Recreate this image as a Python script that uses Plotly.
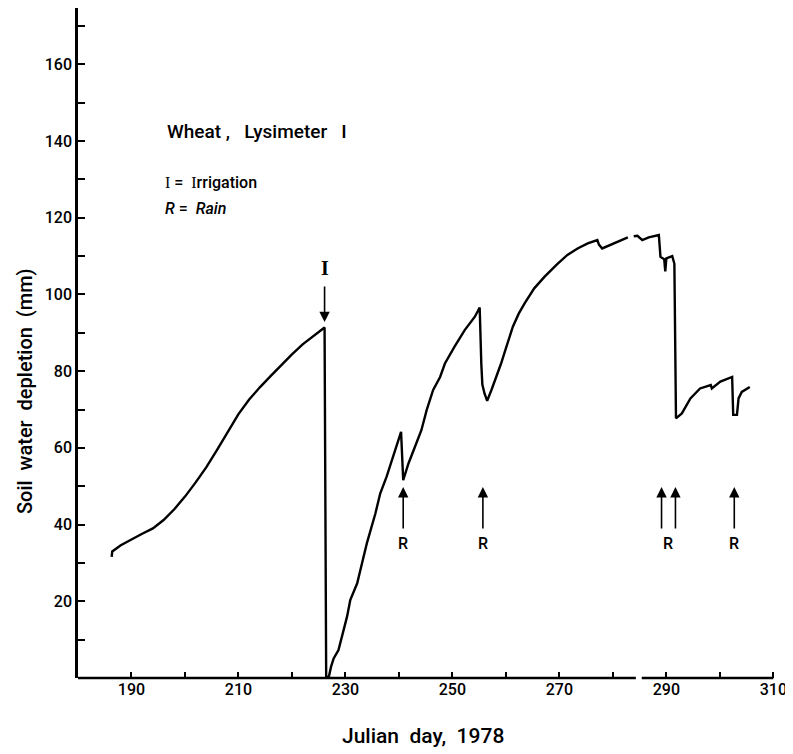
import plotly.graph_objects as go

# ---- data ----
julian_day = [186.3, 186.4, 188.0, 190.0, 192.0, 194.0, 196.0, 198.0, 200.0, 202.0,
              204.0, 206.0, 208.0, 210.0, 212.0, 214.0, 216.0, 218.0, 220.0, 222.0,
              224.0, 226.1, 226.4, 226.9, 227.3, 227.8,
              228.7, 229.4, 230.3, 230.9, 232.2, 233.1, 234.0, 235.6, 236.5, 237.7,
              238.7, 239.6, 240.4, 240.8, 241.8, 243.0, 244.2, 245.2, 246.4, 247.7,
              248.6, 250.4, 252.3, 254.2, 255.1, 255.4, 255.6, 256.0, 256.5, 257.3,
              258.2, 259.1, 260.1, 261.3, 262.4, 263.5, 265.3, 267.2, 269.5, 271.5,
              273.4, 275.3, 277.1, 277.4, 278.0, 280.8, 282.8, None, 283.9, 284.6,
              285.5, 286.7, 288.6, 288.9, 289.6, 289.8, 290.0, 291.1, 291.5, 291.8,
              292.9, 294.5, 296.3, 298.3, 298.5, 300.1, 302.3, 302.5, 303.2, 303.5,
              304.1, 304.7, 305.6]
depletion_mm = [31.6, 33.0, 34.6, 36.2, 37.6, 39.0, 41.2, 44.0, 47.3, 51.0,
                55.0, 59.5, 64.2, 68.8, 72.6, 75.8, 78.7, 81.6, 84.4, 87.0,
                89.2, 91.4, 0.3, 0.3, 2.9, 5.1,
                7.3, 10.8, 16.0, 20.3, 24.7, 29.9, 35.1, 42.9, 48.1, 52.5,
                56.8, 61.2, 64.2, 51.6, 56.0, 60.3, 64.6, 69.9, 75.1, 78.5,
                82.0, 86.4, 90.7, 94.2, 96.6, 82.0, 76.5, 74.2, 72.3, 75.1,
                78.5, 82.0, 86.4, 91.6, 95.0, 97.7, 101.6, 104.6, 107.8, 110.3,
                112.0, 113.3, 114.2, 113.0, 112.0, 113.8, 114.9, None, 115.2, 115.3,
                114.2, 114.9, 115.5, 109.8, 109.2, 106.0, 109.4, 110.0, 108.0, 67.7,
                69.0, 72.9, 75.5, 76.4, 75.5, 77.3, 78.5, 68.6, 68.6, 72.9,
                74.6, 75.1, 75.9]

irrigation_day = [226.1]
rain_days = [240.8, 255.7, 289.1, 291.7, 302.7]
rain_label_days = [240.8, 255.7, 290.4, 302.7]

x_tickvals = [190, 210, 230, 250, 270, 290, 310]
y_tickvals = [20, 40, 60, 80, 100, 120, 140, 160]

FONT = "Roboto"
NB = "\u00a0"

fig = go.Figure()
fig.add_trace(go.Scatter(
    x=julian_day, y=depletion_mm, mode="lines",
    line=dict(color="black", width=2.4), connectgaps=False,
    showlegend=False, hoverinfo="skip"))

fig.update_layout(
    width=785, height=746,
    margin=dict(l=70, r=17, t=0, b=76),
    paper_bgcolor="white", plot_bgcolor="white",
    font=dict(family=FONT, color="black", size=16, weight=500),
    showlegend=False,
)
fig.update_xaxes(
    range=[180, 310.5], showgrid=False, zeroline=False, showline=False,
    tickvals=x_tickvals, ticktext=[str(v) for v in x_tickvals],
    ticks="inside", ticklen=6, tickwidth=2, tickcolor="black",
    minor=dict(tickvals=[200, 220, 240, 260, 280, 300], ticks="inside",
               ticklen=6, tickwidth=2, tickcolor="black"),
    tickfont=dict(family=FONT, size=16, weight=500),
)
fig.update_yaxes(
    range=[0, 174.7], showgrid=False, zeroline=False, showline=True,
    linecolor="black", linewidth=2.5,
    tickvals=y_tickvals, ticktext=[str(v) for v in y_tickvals],
    ticks="inside", ticklen=7, tickwidth=2, tickcolor="black",
    minor=dict(tickvals=[10, 30, 50, 70, 90, 110, 130, 150, 170], ticks="inside",
               ticklen=7, tickwidth=2, tickcolor="black"),
    tickfont=dict(family=FONT, size=16, weight=500),
)

# broken bottom axis line
for x0, x1 in [(180, 284.3), (285.4, 310)]:
    fig.add_shape(type="line", xref="x", yref="paper", x0=x0, x1=x1, y0=0, y1=0,
                  line=dict(color="black", width=2.5))

# axis titles
fig.add_annotation(xref="paper", yref="paper", x=(423 - 78) / 698, y=-(736 - 678) / 670,
                   text=f"Julian{NB}{NB}day,{NB}{NB}1978", showarrow=False,
                   font=dict(family=FONT, size=21, weight=500), xanchor="center", yanchor="middle")
fig.add_annotation(xref="paper", yref="paper", x=-(78 - 25) / 698, y=(678 - 391) / 670,
                   text=f"Soil{NB}{NB}water{NB}{NB}depletion{NB}{NB}(mm)", showarrow=False,
                   textangle=-90,
                   font=dict(family=FONT, size=20, weight=500), xanchor="center", yanchor="middle")

# in-plot labels
SERIF_I = '<span style="font-family:Liberation Serif">I</span>'
fig.add_annotation(x=196.2, y=142.6, xref="x", yref="y", xanchor="left",
                   text=f"Wheat{NB},{NB}{NB}{NB}Lysimeter{NB}{NB}{NB}I", showarrow=False,
                   font=dict(family=FONT, size=19, weight=500))
fig.add_annotation(x=195.8, y=129.3, xref="x", yref="y", xanchor="left",
                   text=f"{SERIF_I}{NB}={NB}{NB}{SERIF_I}rrigation", showarrow=False,
                   font=dict(family=FONT, size=16, weight=500))
fig.add_annotation(x=195.8, y=122.5, xref="x", yref="y", xanchor="left",
                   text=f"<i>R</i>{NB}={NB}{NB}<i>Rain</i>", showarrow=False,
                   font=dict(family=FONT, size=16, weight=500))

# irrigation arrow
for d in irrigation_day:
    fig.add_annotation(x=d, y=92.8, ax=d, ay=102.5, xref="x", yref="y",
                       axref="x", ayref="y", text="", showarrow=True,
                       arrowhead=2, arrowsize=1.3, arrowwidth=1.6, arrowcolor="black")
    fig.add_annotation(x=d, y=107.0, xref="x", yref="y", text=SERIF_I,
                       showarrow=False, font=dict(family="Liberation Serif", size=20, weight="bold"))

# rain arrows
for d in rain_days:
    fig.add_annotation(x=d, y=49.8, ax=d, ay=38.6, xref="x", yref="y",
                       axref="x", ayref="y", text="", showarrow=True,
                       arrowhead=2, arrowsize=1.3, arrowwidth=1.6, arrowcolor="black")
for d in rain_label_days:
    fig.add_annotation(x=d, y=35.2, xref="x", yref="y", text="R",
                       showarrow=False, font=dict(family=FONT, size=16, weight=500))

fig.write_html("out.html")
